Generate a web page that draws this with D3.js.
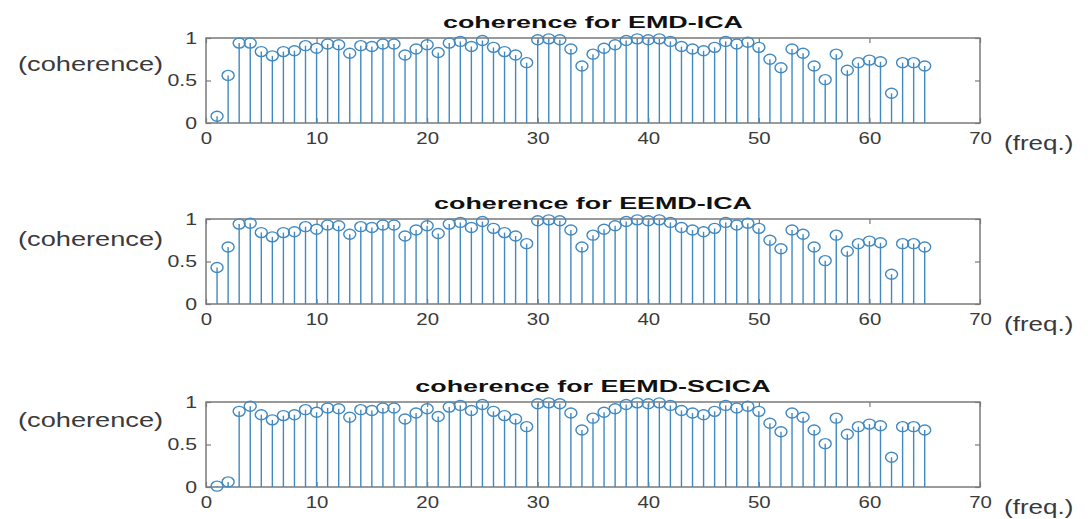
<!DOCTYPE html>
<html>
<head>
<meta charset="utf-8">
<script src="https://cdn.jsdelivr.net/npm/d3@7"></script>
<style>
  body { margin: 0; background: #fff; }
  svg { display: block; font-family: "Liberation Sans", Arial, sans-serif; }
</style>
</head>
<body>
<div id="chart"></div>
<script>
var width = 1091, height = 519;

// Data
var freq = d3.range(1, 66);
var emdIca = [0.08, 0.56, 0.94, 0.94, 0.84, 0.79, 0.84, 0.85, 0.91, 0.88,
  0.93, 0.92, 0.82, 0.91, 0.90, 0.93, 0.93, 0.80, 0.87, 0.92,
  0.83, 0.94, 0.96, 0.90, 0.97, 0.89, 0.84, 0.80, 0.71, 0.98,
  0.99, 0.98, 0.87, 0.67, 0.81, 0.88, 0.92, 0.97, 0.99, 0.98,
  0.99, 0.96, 0.90, 0.87, 0.85, 0.89, 0.96, 0.93, 0.95, 0.89,
  0.75, 0.65, 0.87, 0.82, 0.67, 0.51, 0.81, 0.62, 0.71, 0.74,
  0.72, 0.35, 0.71, 0.71, 0.67];
var eemdIca = [0.43, 0.67, 0.94, 0.95, 0.84, 0.79, 0.84, 0.85, 0.91, 0.88,
  0.93, 0.92, 0.82, 0.91, 0.90, 0.93, 0.93, 0.80, 0.87, 0.92,
  0.83, 0.94, 0.96, 0.90, 0.97, 0.89, 0.84, 0.80, 0.71, 0.98,
  0.99, 0.98, 0.87, 0.67, 0.81, 0.88, 0.92, 0.97, 0.99, 0.98,
  0.99, 0.96, 0.90, 0.87, 0.85, 0.89, 0.96, 0.93, 0.95, 0.89,
  0.75, 0.65, 0.87, 0.82, 0.67, 0.51, 0.81, 0.62, 0.71, 0.74,
  0.72, 0.35, 0.71, 0.71, 0.67];
var eemdScica = [0.01, 0.06, 0.89, 0.95, 0.85, 0.79, 0.84, 0.85, 0.91, 0.88,
  0.93, 0.92, 0.82, 0.91, 0.90, 0.93, 0.93, 0.80, 0.87, 0.92,
  0.83, 0.94, 0.96, 0.90, 0.97, 0.89, 0.84, 0.80, 0.71, 0.98,
  0.99, 0.98, 0.87, 0.67, 0.81, 0.88, 0.92, 0.97, 0.99, 0.98,
  0.99, 0.96, 0.90, 0.87, 0.85, 0.89, 0.96, 0.93, 0.95, 0.89,
  0.75, 0.65, 0.87, 0.82, 0.67, 0.51, 0.81, 0.62, 0.71, 0.74,
  0.72, 0.35, 0.71, 0.71, 0.67];
var titles = ["coherence for EMD-ICA", "coherence for EEMD-ICA", "coherence for EEMD-SCICA"];
var series = [emdIca, eemdIca, eemdScica];
var xTicks = [0, 10, 20, 30, 40, 50, 60, 70];
var yTicks = [0, 0.5, 1];

// layout
var left = 206, right = 980, plotH = 85;
var tops = [38, 219, 402];
var ylabOffset = [26, 20, 18];
var stemColor = "#4189c0";
var axisColor = "#7a7a7a";
var textColor = "#3a3a3a";

var svg = d3.select("#chart").append("svg")
  .attr("width", width)
  .attr("height", height);

var x = d3.scaleLinear().domain([0, 70]).range([left, right]);

// stretch a text element horizontally by a factor (reference text is wide)
function stretch(sel, k) {
  sel.each(function() {
    var w = this.getComputedTextLength();
    d3.select(this).attr("textLength", w * k).attr("lengthAdjust", "spacingAndGlyphs");
  });
}

series.forEach(function(vals, i) {
  var top = tops[i];
  var y = d3.scaleLinear().domain([0, 1]).range([top + plotH, top]);
  var g = svg.append("g");

  // box
  g.append("rect")
    .attr("x", left).attr("y", top)
    .attr("width", right - left).attr("height", plotH)
    .attr("fill", "none")
    .attr("stroke", axisColor)
    .attr("stroke-width", 1.5);

  // axes
  var xa = g.append("g")
    .attr("transform", "translate(0," + (top + plotH) + ")")
    .call(d3.axisBottom(x).tickValues(xTicks).tickSizeInner(-5).tickSizeOuter(0).tickPadding(9));
  var xt = g.append("g")
    .attr("transform", "translate(0," + top + ")")
    .call(d3.axisTop(x).tickValues(xTicks).tickSizeInner(-5).tickSizeOuter(0).tickFormat(""));
  var ya = g.append("g")
    .attr("transform", "translate(" + left + ",0)")
    .call(d3.axisLeft(y).tickValues(yTicks).tickSizeInner(-5).tickSizeOuter(0).tickPadding(9).tickFormat(d3.format("")));
  var yr = g.append("g")
    .attr("transform", "translate(" + right + ",0)")
    .call(d3.axisRight(y).tickValues(yTicks).tickSizeInner(-5).tickSizeOuter(0).tickFormat(""));

  [xa, xt, ya, yr].forEach(function(a) {
    a.select(".domain").remove();
    a.selectAll(".tick line").attr("stroke", axisColor).attr("stroke-width", 1.2);
    a.selectAll("text")
      .attr("fill", textColor)
      .style("font-size", "17px");
  });
  xa.selectAll("text").call(stretch, 1.2);
  ya.selectAll("text").call(stretch, 1.25);

  // stems
  g.selectAll(".stem")
    .data(vals)
    .enter().append("line")
      .attr("class", "stem")
      .attr("x1", function(d, j) { return x(freq[j]); })
      .attr("x2", function(d, j) { return x(freq[j]); })
      .attr("y1", y(0))
      .attr("y2", function(d) { return y(d); })
      .attr("stroke", stemColor)
      .attr("stroke-width", 1.4);

  g.selectAll(".mark")
    .data(vals)
    .enter().append("ellipse")
      .attr("class", "mark")
      .attr("cx", function(d, j) { return x(freq[j]); })
      .attr("cy", function(d) { return y(d); })
      .attr("rx", 6)
      .attr("ry", 5)
      .attr("fill", "none")
      .attr("stroke", stemColor)
      .attr("stroke-width", 1.4);

  // title
  g.append("text")
    .attr("x", (left + right) / 2)
    .attr("y", top - 10)
    .attr("text-anchor", "middle")
    .attr("fill", "#111")
    .style("font-size", "17px")
    .style("font-weight", "bold")
    .text(titles[i])
    .call(stretch, 1.58);

  // y label
  g.append("text")
    .attr("x", 18)
    .attr("y", top + ylabOffset[i] + 7)
    .attr("fill", textColor)
    .style("font-size", "20px")
    .text("(coherence)")
    .call(stretch, 1.36);

  // x label
  g.append("text")
    .attr("x", 1004)
    .attr("y", top + plotH + 27)
    .attr("fill", textColor)
    .style("font-size", "20px")
    .text("(freq.)")
    .call(stretch, 1.3);
});
</script>
</body>
</html>
